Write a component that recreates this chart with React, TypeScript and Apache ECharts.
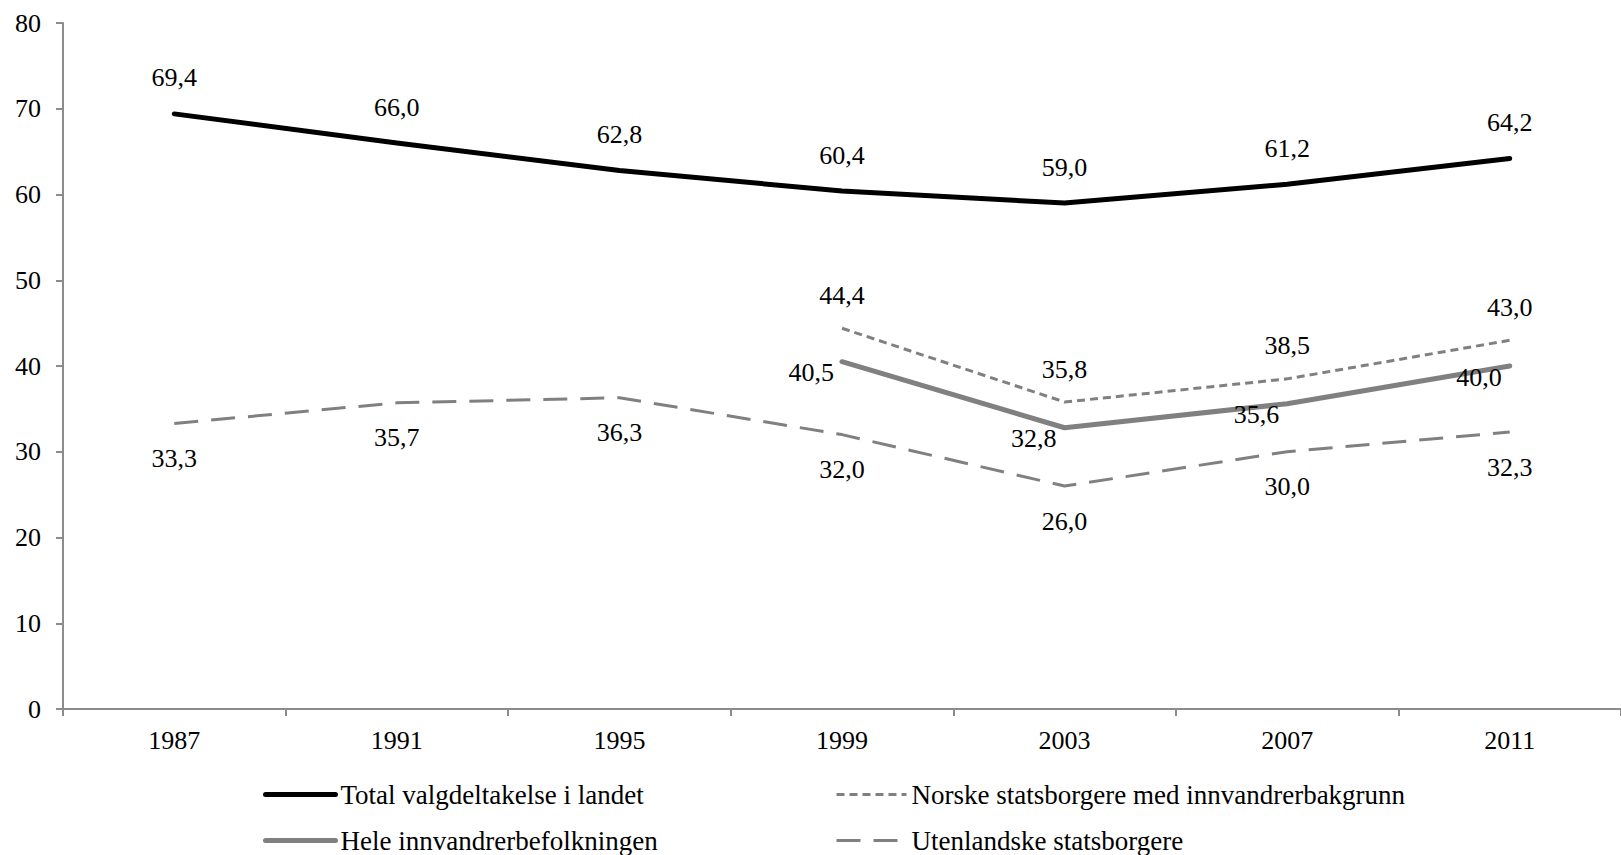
import React, { useEffect, useRef } from "react";
import * as echarts from "echarts";

const years = ["1987", "1991", "1995", "1999", "2003", "2007", "2011"];
const total = [69.4, 66.0, 62.8, 60.4, 59.0, 61.2, 64.2];
const norske = [null, null, null, 44.4, 35.8, 38.5, 43.0];
const hele = [null, null, null, 40.5, 32.8, 35.6, 40.0];
const utenlandske = [33.3, 35.7, 36.3, 32.0, 26.0, 30.0, 32.3];

const names = {
  total: "Total valgdeltakelse i landet",
  norske: "Norske statsborgere med innvandrerbakgrunn",
  hele: "Hele innvandrerbefolkningen",
  utenlandske: "Utenlandske statsborgere",
};

const FONT = "'Liberation Serif', 'Times New Roman', serif";
const GRAY = "#808080";
const AXIS = "#8c8c8c";

const fmt = (p: any) => (p.value == null ? "" : Number(p.value).toFixed(1).replace(".", ","));

export default function App() {
  const ref = useRef<HTMLDivElement>(null);
  useEffect(() => {
    const chart = echarts.init(ref.current!, null, { renderer: "svg" });
    const labelBase = { show: true, color: "#000", fontFamily: FONT, fontSize: 26, formatter: fmt };
    const legendBase = {
      orient: "vertical",
      top: 781,
      padding: 0,
      itemWidth: 70,
      itemHeight: 4,
      itemGap: 19,
      itemStyle: { opacity: 0 },
      textStyle: { color: "#000", fontFamily: FONT, fontSize: 27 },
    };
    chart.setOption({
      animation: false,
      textStyle: { fontFamily: FONT },
      grid: { left: 63, right: -7, top: 23, bottom: 146, containLabel: false },
      xAxis: {
        type: "category",
        data: years,
        boundaryGap: true,
        axisLine: { lineStyle: { color: AXIS, width: 2 } },
        axisTick: { show: true, length: 7, lineStyle: { color: AXIS, width: 2 } },
        axisLabel: { color: "#000", fontFamily: FONT, fontSize: 26, margin: 18 },
      },
      yAxis: {
        type: "value",
        min: 0,
        max: 80,
        interval: 10,
        splitLine: { show: false },
        axisLine: { show: true, lineStyle: { color: AXIS, width: 2 } },
        axisTick: { show: true, length: 7, lineStyle: { color: AXIS, width: 2 } },
        axisLabel: { color: "#000", fontFamily: FONT, fontSize: 26, margin: 22 },
      },
      legend: [
        { ...legendBase, data: [names.total, names.hele], left: 263, lineStyle: { width: 5, cap: "round" } },
        { ...legendBase, data: [names.norske, names.utenlandske], left: 835, lineStyle: { width: 3 } },
      ],
      series: [
        {
          name: names.total,
          type: "line",
          data: total,
          symbol: "circle",
          symbolSize: 0,
          lineStyle: { color: "#000", width: 5, cap: "round", join: "round" },
          itemStyle: { color: "#000" },
          label: { ...labelBase, position: "top", distance: 23 },
        },
        {
          name: names.norske,
          type: "line",
          data: norske,
          symbol: "circle",
          symbolSize: 0,
          lineStyle: { color: GRAY, width: 3, type: [8, 5] },
          itemStyle: { color: GRAY },
          label: { ...labelBase, position: "top", distance: 20 },
        },
        {
          name: names.hele,
          type: "line",
          data: hele,
          symbol: "circle",
          symbolSize: 0,
          lineStyle: { color: GRAY, width: 5, cap: "round", join: "round" },
          itemStyle: { color: GRAY },
          label: { ...labelBase, position: "left", distance: 8, offset: [0, 11] },
        },
        {
          name: names.utenlandske,
          type: "line",
          data: utenlandske,
          symbol: "circle",
          symbolSize: 0,
          lineStyle: { color: GRAY, width: 3, type: [24, 13] },
          itemStyle: { color: GRAY },
          label: { ...labelBase, position: "bottom", distance: 22 },
        },
      ],
    });
    return () => chart.dispose();
  }, []);
  return (
    <div
      ref={ref}
      style={{ position: "fixed", left: 0, top: 0, width: 1621, height: 855, background: "#fff" }}
    />
  );
}
